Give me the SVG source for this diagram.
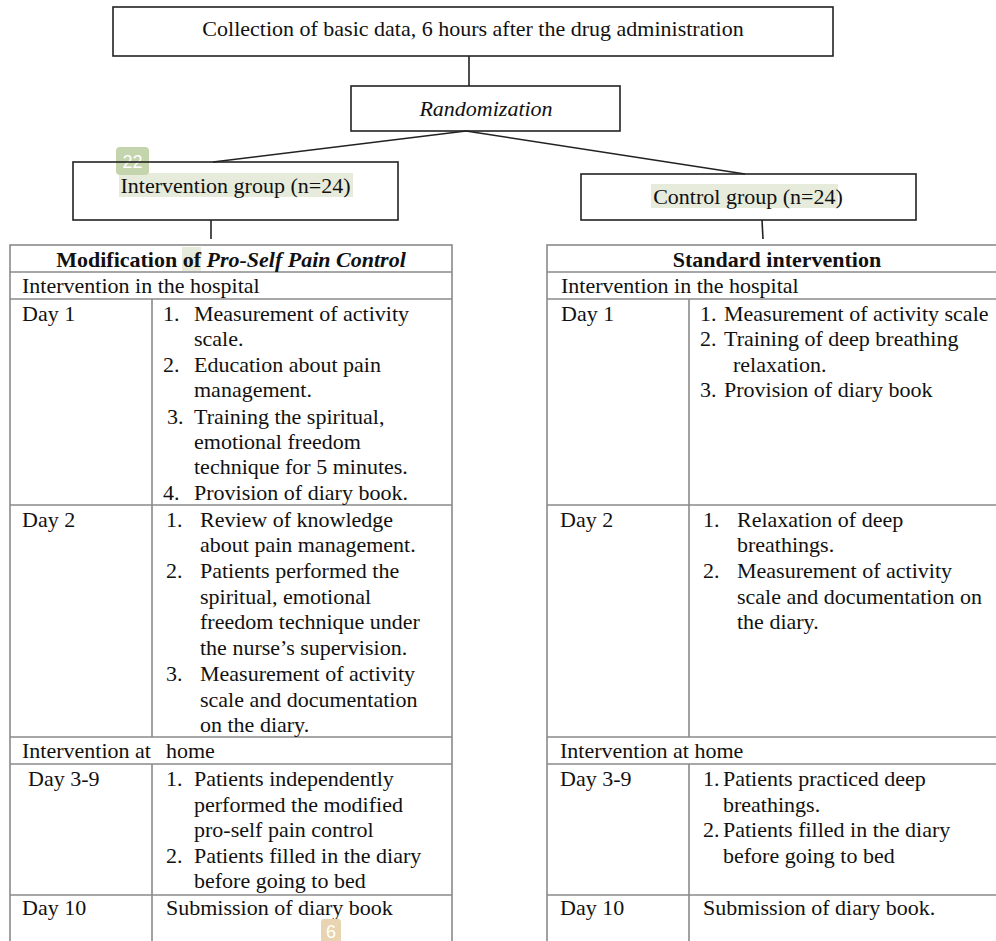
<svg xmlns="http://www.w3.org/2000/svg" width="996" height="941" viewBox="0 0 996 941">
<style>
.bg{fill:#ffffff}
.box{fill:none;stroke:#222;stroke-width:1.6}
.conn{stroke:#222;stroke-width:1.6;fill:none}
.tl{stroke:#8a8a8a;stroke-width:1.6;fill:none}
.t{font-family:"Liberation Serif","Times New Roman",serif;font-size:22px;fill:#111}
.c{text-anchor:middle}
.b{font-weight:bold}
.i{font-style:italic}
.hl{fill:#e6ebdc}
.badge{fill:#c4d4ac}
.badge2{fill:#e8d4b0}
.bt{font-family:"Liberation Sans",Arial,sans-serif;font-size:18px;fill:#ffffff;text-anchor:middle}
</style>
<rect class="bg" x="0" y="0" width="996" height="941"/>

<g id="highlights">
<rect class="hl" x="119" y="173" width="234" height="24"/>
<rect class="hl" x="651" y="184" width="187" height="24"/>
<rect class="hl" x="182" y="247" width="19" height="24"/>
</g>

<g id="connectors">
<line class="conn" x1="469" y1="56" x2="469" y2="86"/>
<line class="conn" x1="466" y1="131" x2="213" y2="162"/>
<line class="conn" x1="466" y1="131" x2="745" y2="174"/>
<line class="conn" x1="211" y1="220" x2="211" y2="239"/>
<line class="conn" x1="762" y1="220" x2="763" y2="239"/>
</g>

<g id="node-collection">
<rect class="box" x="113" y="7" width="720" height="49"/>
<text class="t c" x="473" y="36">Collection of basic data, 6 hours after the drug administration</text>
</g>

<g id="node-randomization">
<rect class="box" x="351" y="86" width="269" height="45"/>
<text class="t c i" x="486" y="116">Randomization</text>
</g>

<g id="badge-22">
<rect class="badge" x="116" y="147" width="33" height="28" rx="4"/>
<text class="bt" x="132.5" y="168">22</text>
</g>

<g id="node-intervention">
<rect class="box" x="73" y="162" width="325" height="58"/>
<text class="t c" x="235.5" y="193">Intervention group (n=24)</text>
</g>

<g id="node-control">
<rect class="box" x="581" y="174" width="335" height="46"/>
<text class="t c" x="748" y="204">Control group (n=24)</text>
</g>

<g id="table-left">
<rect class="tl" x="10" y="245" width="442" height="710"/>
<line class="tl" x1="10" y1="272" x2="452" y2="272"/>
<line class="tl" x1="10" y1="299" x2="452" y2="299"/>
<line class="tl" x1="10" y1="505" x2="452" y2="505"/>
<line class="tl" x1="10" y1="737" x2="452" y2="737"/>
<line class="tl" x1="10" y1="764" x2="452" y2="764"/>
<line class="tl" x1="10" y1="895" x2="452" y2="895"/>
<line class="tl" x1="152" y1="299" x2="152" y2="737"/>
<line class="tl" x1="152" y1="764" x2="152" y2="955"/>
<text class="t c b" x="231" y="267">Modification of <tspan class="i">Pro-Self Pain Control</tspan></text>
<text class="t" x="22" y="293">Intervention in the hospital</text>
<text class="t" x="22" y="321">Day 1</text>
<text class="t" x="163" y="321">1.</text><text class="t" x="194" y="321">Measurement of activity</text>
<text class="t" x="194" y="346">scale.</text>
<text class="t" x="163" y="372">2.</text><text class="t" x="194" y="372">Education about pain</text>
<text class="t" x="194" y="397">management.</text>
<text class="t" x="167" y="424">3.</text><text class="t" x="194" y="424">Training the spiritual,</text>
<text class="t" x="194" y="449">emotional freedom</text>
<text class="t" x="194" y="474">technique for 5 minutes.</text>
<text class="t" x="163" y="500">4.</text><text class="t" x="194" y="500">Provision of diary book.</text>
<text class="t" x="22" y="527">Day 2</text>
<text class="t" x="166" y="527">1.</text><text class="t" x="200" y="527">Review of knowledge</text>
<text class="t" x="200" y="552">about pain management.</text>
<text class="t" x="166" y="578">2.</text><text class="t" x="200" y="578">Patients performed the</text>
<text class="t" x="200" y="604">spiritual, emotional</text>
<text class="t" x="200" y="629">freedom technique under</text>
<text class="t" x="200" y="655">the nurse’s supervision.</text>
<text class="t" x="166" y="681">3.</text><text class="t" x="200" y="681">Measurement of activity</text>
<text class="t" x="200" y="707">scale and documentation</text>
<text class="t" x="200" y="732">on the diary.</text>
<text class="t" x="22" y="758">Intervention at <tspan x="166">home</tspan></text>
<text class="t" x="28" y="786">Day 3-9</text>
<text class="t" x="166" y="786">1.</text><text class="t" x="194" y="786">Patients independently</text>
<text class="t" x="194" y="812">performed the modified</text>
<text class="t" x="194" y="837">pro-self pain control</text>
<text class="t" x="166" y="863">2.</text><text class="t" x="194" y="863">Patients filled in the diary</text>
<text class="t" x="194" y="888">before going to bed</text>
<text class="t" x="22" y="915">Day 10</text>
<text class="t" x="166" y="915">Submission of diary book</text>
</g>

<g id="table-right">
<rect class="tl" x="547" y="245" width="460" height="710"/>
<line class="tl" x1="547" y1="272" x2="1007" y2="272"/>
<line class="tl" x1="547" y1="299" x2="1007" y2="299"/>
<line class="tl" x1="547" y1="505" x2="1007" y2="505"/>
<line class="tl" x1="547" y1="737" x2="1007" y2="737"/>
<line class="tl" x1="547" y1="764" x2="1007" y2="764"/>
<line class="tl" x1="547" y1="895" x2="1007" y2="895"/>
<line class="tl" x1="689" y1="299" x2="689" y2="737"/>
<line class="tl" x1="689" y1="764" x2="689" y2="955"/>
<text class="t c b" x="777" y="267">Standard intervention</text>
<text class="t" x="561" y="293">Intervention in the hospital</text>
<text class="t" x="561" y="321">Day 1</text>
<text class="t" x="700" y="321">1.</text><text class="t" x="724" y="321">Measurement of activity scale</text>
<text class="t" x="700" y="346">2.</text><text class="t" x="724" y="346">Training of deep breathing</text>
<text class="t" x="733" y="372">relaxation.</text>
<text class="t" x="700" y="397">3.</text><text class="t" x="724" y="397">Provision of diary book</text>
<text class="t" x="560" y="527">Day 2</text>
<text class="t" x="703" y="527">1.</text><text class="t" x="737" y="527">Relaxation of deep</text>
<text class="t" x="737" y="552">breathings.</text>
<text class="t" x="703" y="578">2.</text><text class="t" x="737" y="578">Measurement of activity</text>
<text class="t" x="737" y="604">scale and documentation on</text>
<text class="t" x="737" y="629">the diary.</text>
<text class="t" x="560" y="758">Intervention at home</text>
<text class="t" x="560" y="786">Day 3-9</text>
<text class="t" x="703" y="786">1.</text><text class="t" x="723" y="786">Patients practiced deep</text>
<text class="t" x="723" y="812">breathings.</text>
<text class="t" x="703" y="837">2.</text><text class="t" x="723" y="837">Patients filled in the diary</text>
<text class="t" x="723" y="863">before going to bed</text>
<text class="t" x="560" y="915">Day 10</text>
<text class="t" x="703" y="915">Submission of diary book.</text>
</g>

<g id="badge-6">
<rect class="badge2" x="321" y="919" width="20" height="26" rx="3"/>
<text class="bt" x="331" y="938">6</text>
</g>
</svg>
